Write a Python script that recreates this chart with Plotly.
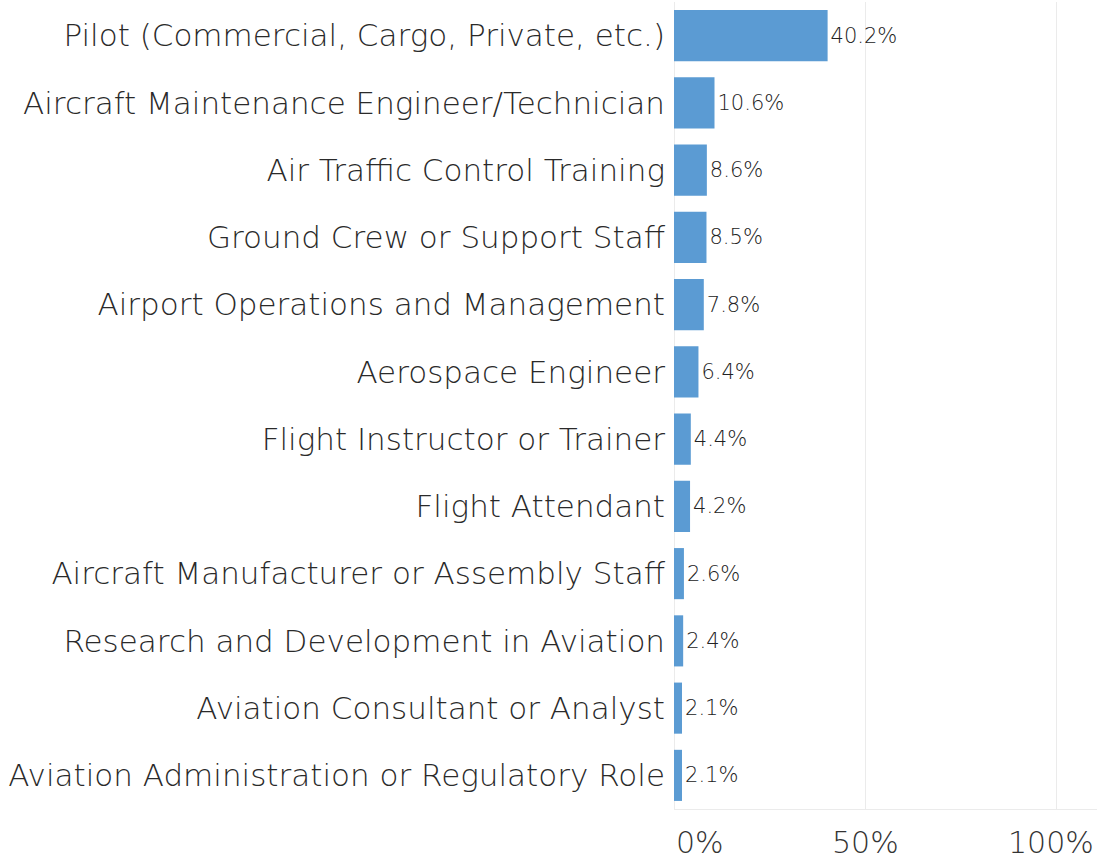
import plotly.graph_objects as go

categories = [
    "Pilot (Commercial, Cargo, Private, etc.)",
    "Aircraft Maintenance Engineer/Technician",
    "Air Traffic Control Training",
    "Ground Crew or Support Staff",
    "Airport Operations and Management",
    "Aerospace Engineer",
    "Flight Instructor or Trainer",
    "Flight Attendant",
    "Aircraft Manufacturer or Assembly Staff",
    "Research and Development in Aviation",
    "Aviation Consultant or Analyst",
    "Aviation Administration or Regulatory Role",
]
values = [40.2, 10.6, 8.6, 8.5, 7.8, 6.4, 4.4, 4.2, 2.6, 2.4, 2.1, 2.1]
value_labels = ["40.2%", "10.6%", "8.6%", "8.5%", "7.8%", "6.4%", "4.4%", "4.2%", "2.6%", "2.4%", "2.1%", "2.1%"]
tick_values = [0, 50, 100]
tick_labels = ["0%", "50%", "100%"]
tick_anchors = ["left", "center", "center"]
tick_shifts = [0, 0, -5]

FONT = "'DejaVu Sans', 'Open Sans', sans-serif"

fig = go.Figure(
    go.Bar(
        y=categories,
        x=values,
        orientation="h",
        marker=dict(color="#5b9bd3", line=dict(width=0)),
        text=value_labels,
        textposition="outside",
        cliponaxis=False,
        textfont=dict(family=FONT, size=21, color="#222222", weight=300),
        hoverinfo="skip",
        width=0.76,
    )
)

fig.update_yaxes(
    categoryorder="array",
    categoryarray=categories,
    autorange="reversed",
    tickfont=dict(family=FONT, size=31, color="#2a2a2a", weight=300),
    ticks="",
    ticklabelstandoff=8,
    showgrid=False,
    zeroline=False,
    showline=False,
    automargin=False,
)
fig.update_xaxes(
    range=[0, 110.7],
    tickvals=tick_values,
    showticklabels=False,
    showgrid=True,
    gridcolor="#ebebeb",
    gridwidth=1,
    zeroline=True,
    zerolinecolor="#ebebeb",
    zerolinewidth=1,
    showline=True,
    linecolor="#ebebeb",
    linewidth=1,
    mirror=False,
)

for tv, tl, anc, sh in zip(tick_values, tick_labels, tick_anchors, tick_shifts):
    fig.add_annotation(
        x=tv, y=0, xref="x", yref="paper",
        text=tl, showarrow=False,
        xanchor=anc, yanchor="middle",
        yshift=-33, xshift=sh,
        font=dict(family=FONT, size=30, color="#333333", weight=300),
    )

fig.update_layout(
    width=1097,
    height=860,
    margin=dict(l=674, r=0, t=2, b=51),
    plot_bgcolor="white",
    paper_bgcolor="white",
    showlegend=False,
    bargap=0.24,
)

fig.write_html(
    "out.html",
    config={"displayModeBar": False},
    post_script="document.body.style.margin='0';",
)
